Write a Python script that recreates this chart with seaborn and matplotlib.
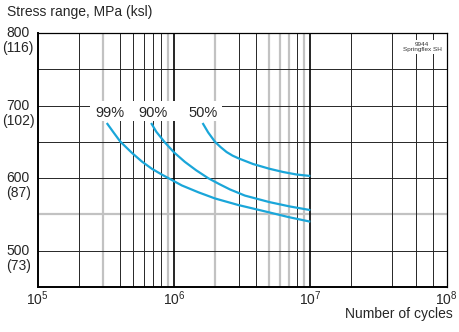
import matplotlib
matplotlib.use("Agg")
import matplotlib.pyplot as plt
from matplotlib.patches import Rectangle
import pandas as pd
import seaborn as sns

# Fatigue curves: number of cycles vs stress range (MPa) per survival probability
cycles_99 = [3.21e5, 3.6e5, 4.03e5, 4.9e5, 5.8e5, 6.87e5, 8.13e5, 9.1e5,
             1.14e6, 1.51e6, 2.0e6, 2.96e6, 4.95e6, 6.87e6, 1.0e7]
stress_99 = [676, 663, 650.5, 635, 623, 613, 605, 600,
             590, 580.5, 572, 563, 553, 546.5, 540]

cycles_90 = [6.79e5, 7.41e5, 8.59e5, 1.0e6, 1.2e6, 1.45e6, 1.78e6, 2.14e6,
             2.57e6, 3.31e6, 5.01e6, 7.08e6, 1.0e7]
stress_90 = [676, 664, 649, 635.5, 622.5, 611, 600, 592,
             584.5, 576, 567, 561, 556]

cycles_50 = [1.62e6, 1.78e6, 2.0e6, 2.19e6, 2.43e6, 2.69e6, 3.0e6, 3.8e6,
             5.0e6, 6.31e6, 7.94e6, 1.0e7]
stress_50 = [676, 663, 650, 643, 636, 631, 627, 619.5,
             613, 608.5, 605, 603]

curve_labels = ["99%", "90%", "50%"]

# Axis labelling
y_ticks_mpa = [500, 600, 700, 800]
y_ticks_ksi = ["(73)", "(87)", "(102)", "(116)"]
x_ticks = [1e5, 1e6, 1e7, 1e8]
x_tick_labels = [r"$10^5$", r"$10^6$", r"$10^7$", r"$10^8$"]

# Chart grid
grid_dark_x = [2e5, 4e5, 5e5, 6e5, 7e5, 8e5, 3e6, 4e6, 8e6, 2e7, 4e7, 6e7, 8e7]
grid_light_x = [3e5, 9e5, 2e6, 5e6, 6e6, 7e6, 9e6]
grid_decade_x = [1e6, 1e7]
grid_dark_y = [500, 600, 650, 700, 750]
grid_light_y = [550]

sns.set_style("white")
plt.rcParams["font.family"] = ["Liberation Sans", "DejaVu Sans"]
plt.rcParams["mathtext.fontset"] = "custom"
plt.rcParams["mathtext.rm"] = "Liberation Sans"
plt.rcParams["mathtext.it"] = "Liberation Sans"

fig = plt.figure(figsize=(4.6, 3.32), dpi=100)
ax = fig.add_axes([0.082, 0.1355, 0.889, 0.765])
ax.set_xscale("log")
ax.set_xlim(1e5, 1e8)
ax.set_ylim(450, 800)

dark = "#262626"
light = "#c2c2c2"
for x in grid_light_x:
    ax.axvline(x, color=light, lw=1.6, zorder=1)
for y in grid_light_y:
    ax.axhline(y, color=light, lw=1.6, zorder=1)
for x in grid_dark_x:
    ax.axvline(x, color=dark, lw=0.7, zorder=1.2)
for y in grid_dark_y:
    ax.axhline(y, color=dark, lw=0.7, zorder=1.2)
for x in grid_decade_x:
    ax.axvline(x, color="black", lw=1.2, zorder=1.3)

# white panel behind the curve labels
ax.add_patch(Rectangle((2.42e5, 679), 2.25e6 - 2.42e5, 706.5 - 679,
                       facecolor="white", edgecolor="none", zorder=2))

frames = []
for lab, xs, ys in [("99%", cycles_99, stress_99),
                    ("90%", cycles_90, stress_90),
                    ("50%", cycles_50, stress_50)]:
    frames.append(pd.DataFrame({"cycles": xs, "stress": ys, "curve": lab}))
df = pd.concat(frames, ignore_index=True)

sns.lineplot(data=df, x="cycles", y="stress", units="curve", estimator=None,
             color="#1aa6d9", lw=1.6, sort=False, ax=ax, zorder=3)
for line in ax.get_lines()[-3:]:
    line.set_solid_capstyle("butt")
    line.set_solid_joinstyle("round")

label_x = [3.4e5, 7.0e5, 1.63e6]
for lab, lx in zip(curve_labels, label_x):
    ax.text(lx, 690, lab, ha="center", va="center", fontsize=10.5, zorder=4)

ax.text(0.94, 0.966, "9944\nSpringflex SH", transform=ax.transAxes,
        ha="center", va="top", fontsize=4.6, color="#333333", linespacing=1.15,
        zorder=4, bbox=dict(facecolor="white", edgecolor="none", pad=1.5))

ax.set_xticks(x_ticks)
ax.set_xticklabels(x_tick_labels, fontsize=10)
ax.xaxis.set_minor_locator(matplotlib.ticker.NullLocator())
ax.tick_params(axis="x", length=0, pad=1.5)
ax.set_yticks([])
for mpa, ksi in zip(y_ticks_mpa, y_ticks_ksi):
    ax.annotate(str(mpa), (-0.048, mpa), xycoords=("axes fraction", "data"),
                ha="center", va="center", fontsize=10, annotation_clip=False)
    ax.annotate(ksi, (-0.048, mpa), xycoords=("axes fraction", "data"),
                xytext=(0, -11), textcoords="offset points",
                ha="center", va="center", fontsize=10, annotation_clip=False)

ax.set_xlabel("")
ax.set_ylabel("")
for side in ["left", "bottom"]:
    ax.spines[side].set_linewidth(1.4)
for side in ["top", "right"]:
    ax.spines[side].set_linewidth(0.9)
for s in ax.spines.values():
    s.set_color("black")
    s.set_zorder(5)

fig.text(0.015, 0.965, "Stress range, MPa (ksl)", ha="left", va="center", fontsize=10)
fig.text(0.985, 0.054, "Number of cycles", ha="right", va="center", fontsize=10)

fig.savefig("out.png", dpi=100)
